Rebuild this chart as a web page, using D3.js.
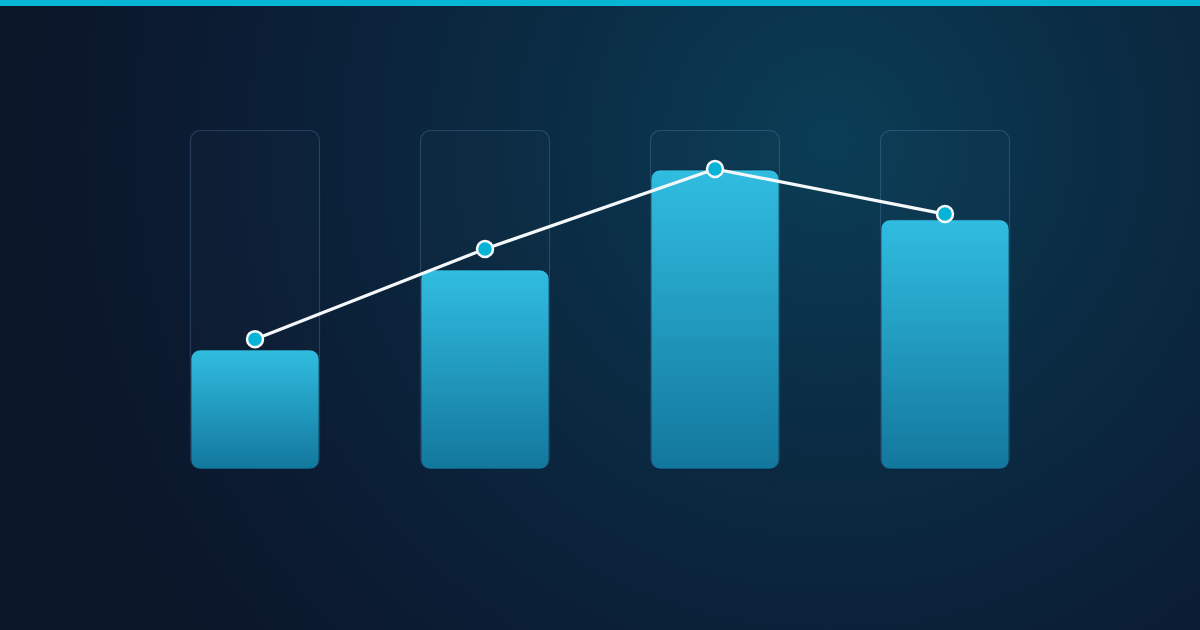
<!DOCTYPE html>
<html><head><meta charset="utf-8">
<script src="https://cdn.jsdelivr.net/npm/d3@7"></script>
<style>html,body{margin:0;padding:0;background:#0b1628;overflow:hidden}</style>
</head><body>
<svg id="c" width="1200" height="630"></svg>
<script>
const categories = ["Q1", "Q2", "Q3", "Q4"];
const barValues = [35.1, 58.7, 88.2, 73.5];
const lineValues = [38.3, 64.9, 88.5, 75.2];
const trackMax = 100;

const W = 1200, H = 630;
const svg = d3.select("#c");
const defs = svg.append("defs");

const bg = defs.append("radialGradient").attr("id","bg")
  .attr("gradientUnits","userSpaceOnUse").attr("cx",830).attr("cy",140).attr("r",820);
bg.append("stop").attr("offset","0").attr("stop-color","#0b3d56");
bg.append("stop").attr("offset","0.35").attr("stop-color","#0a2c44");
bg.append("stop").attr("offset","0.75").attr("stop-color","#0b1c33");
bg.append("stop").attr("offset","1").attr("stop-color","#0b1628");

const barG = defs.append("linearGradient").attr("id","barG").attr("x1",0).attr("y1",0).attr("x2",0).attr("y2",1);
barG.append("stop").attr("offset","0").attr("stop-color","#30bde0");
barG.append("stop").attr("offset","1").attr("stop-color","#13779d");

svg.append("rect").attr("width",W).attr("height",H).attr("fill","#0b1628");
svg.append("rect").attr("width",W).attr("height",H).attr("fill","url(#bg)");
svg.append("rect").attr("width",W).attr("height",6).attr("fill","#06b6d4");

const p = 100/230;
const x = d3.scaleBand().domain(categories).range([140,1060]).paddingInner(p).paddingOuter(p/2);
const y = d3.scaleLinear().domain([0,trackMax]).range([469,130]);

svg.append("g").selectAll("rect").data(categories).join("rect")
  .attr("x",d=>x(d)+0.5).attr("y",y(trackMax)+0.5)
  .attr("width",x.bandwidth()-1).attr("height",y(0)-y(trackMax)-1)
  .attr("rx",10).attr("fill","rgba(255,255,255,0.01)")
  .attr("stroke","rgba(110,150,200,0.28)").attr("stroke-width",1.2);

svg.append("g").selectAll("rect").data(barValues).join("rect")
  .attr("x",(d,i)=>x(categories[i])+1).attr("y",d=>y(d))
  .attr("width",x.bandwidth()-2).attr("height",d=>y(0)-y(d))
  .attr("rx",9).attr("fill","url(#barG)")
  .attr("stroke","rgba(8,30,55,0.6)").attr("stroke-width",1);

const pts = lineValues.map((v,i)=>[x(categories[i])+x.bandwidth()/2, y(v)]);
svg.append("path").attr("d",d3.line()(pts)).attr("fill","none")
  .attr("stroke","#f4f8fb").attr("stroke-width",3.2).attr("stroke-linejoin","round");
svg.append("g").selectAll("circle").data(pts).join("circle")
  .attr("cx",d=>d[0]).attr("cy",d=>d[1]).attr("r",8)
  .attr("fill","#07b3d6").attr("stroke","#f4f8fb").attr("stroke-width",2.5);
</script>
</body></html>
